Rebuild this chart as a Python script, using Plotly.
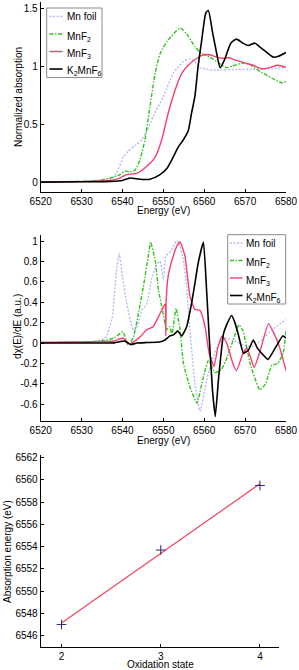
import numpy as np
import plotly.graph_objects as go

W, H = 299, 670

# ---------------- data: normalized absorption (panel 1) ----------------
foil_E = [6520, 6525, 6530, 6534, 6536, 6537.5, 6538.5, 6539.4, 6540.2, 6541.4, 6543.1, 6544.7,
          6545.9, 6547.5, 6550, 6552.4, 6554.9, 6556.5, 6557.7, 6558.9, 6560.2, 6561.4, 6564,
          6568, 6572, 6576, 6580]
foil_A = [0.01, 0.01, 0.012, 0.02, 0.03, 0.04, 0.08, 0.15, 0.22, 0.27, 0.32, 0.37,
          0.44, 0.57, 0.74, 0.94, 1.04, 1.065, 1.04, 0.99, 0.98, 0.97, 0.97,
          0.975, 0.975, 0.98, 0.99]

mnf2_E = [6520, 6525, 6530, 6534, 6537, 6539.4, 6540.6, 6541.8, 6543.1, 6544.3, 6545.5, 6546.7,
          6548, 6549.2, 6550.8, 6552, 6554.1, 6555.7, 6557.7, 6559.4, 6561.4, 6563.5, 6565.5,
          6567.5, 6569.5, 6571, 6573, 6575, 6577, 6579, 6580]
mnf2_A = [0.005, 0.008, 0.012, 0.02, 0.04, 0.07, 0.10, 0.095, 0.11, 0.2, 0.37, 0.65,
          0.94, 1.11, 1.21, 1.26, 1.33, 1.28, 1.17, 1.11, 1.08, 1.03, 0.99,
          1.01, 1.03, 1.02, 0.97, 0.93, 0.89, 0.86, 0.87]

mnf3_E = [6520, 6530, 6535, 6537, 6539.4, 6541, 6543.4, 6545.9, 6548, 6549.6, 6551.2, 6552.9,
          6554.5, 6556.1, 6558.2, 6559.8, 6561.4, 6563, 6564.5, 6566, 6568, 6570, 6572, 6574,
          6576, 6578, 6580]
mnf3_A = [0.005, 0.01, 0.015, 0.02, 0.04, 0.07, 0.08, 0.14, 0.22, 0.37, 0.6, 0.8,
          0.94, 1.01, 1.07, 1.10, 1.10, 1.08, 1.07, 1.075, 1.05, 1.03, 1.01, 0.98,
          0.99, 1.01, 0.99]

k2_E = [6520, 6530, 6537, 6540, 6541.8, 6544.3, 6546.7, 6549.2, 6550.8, 6552.4, 6553.7, 6554.9,
        6556.1, 6556.9, 6557.7, 6558.5, 6559.4, 6560.4, 6561, 6562, 6563, 6563.9, 6565,
        6566.5, 6567.9, 6569.5, 6570.8, 6572.4, 6573.5, 6575, 6576.9, 6578, 6580]
k2_A = [0.005, 0.008, 0.012, 0.02, 0.04, 0.03, 0.03, 0.07, 0.12, 0.22, 0.31, 0.37,
        0.45, 0.6, 0.74, 1.0, 1.23, 1.46, 1.48, 1.3, 1.12, 0.99, 1.06,
        1.2, 1.235, 1.2, 1.18, 1.2, 1.17, 1.13, 1.08, 1.085, 1.12]

# ---------------- data: derivative (panel 2) ----------------
dfoil_E = [6520, 6530, 6534, 6536, 6537.5, 6538.5, 6539.2, 6540, 6541, 6542.6, 6543.5, 6544.7,
           6545.9, 6547.1, 6547.8, 6548.4, 6549.2, 6550, 6550.6, 6552, 6553.1, 6553.7, 6554.9,
           6555.7, 6556.5, 6557.7, 6559, 6560.6, 6561.4, 6563, 6564.7, 6567, 6570, 6572, 6574,
           6576.9, 6580]
dfoil_D = [0.005, 0.01, 0.02, 0.06, 0.25, 0.7, 0.88, 0.65, 0.4, 0.13, 0.15, 0.32,
           0.38, 0.62, 0.72, 0.78, 0.8, 0.62, 0.85, 0.91, 1.0, 0.99, 0.81,
           0.55, 0.13, -0.39, -0.67, -0.36, -0.24, -0.05, 0.05, 0.03, -0.03, -0.03, 0.03,
           0.14, 0.23]

dmnf2_E = [6520, 6530, 6535, 6538, 6540.1, 6541.4, 6542.7, 6543.9, 6545.1, 6546.3, 6546.9, 6548,
           6548.8, 6549.6, 6550.8, 6551.6, 6552.1, 6553.1, 6554.1, 6554.9, 6556.5, 6558.2, 6559.8,
           6561, 6562.6, 6564.2, 6565.5, 6567.1, 6568.5, 6569.5, 6571.2, 6573.6, 6575, 6576.5,
           6578, 6579.3, 6580]
dmnf2_D = [0.005, 0.01, 0.02, 0.05, 0.11, -0.02, 0.06, 0.29, 0.55, 0.85, 0.99, 0.81,
           0.52, 0.36, 0.13, 0.16, 0.08, 0.34, 0.13, -0.2, -0.43, -0.59, -0.33,
           -0.17, -0.29, -0.26, -0.15, 0.03, 0.18, 0.12, -0.2, -0.46, -0.4, -0.22,
           -0.2, -0.1, 0.12]

dmnf3_E = [6520, 6530, 6536, 6538, 6540.1, 6541.8, 6543, 6544.3, 6545.9, 6547.5, 6549.2, 6550.4,
           6550.6, 6550.7, 6551.2, 6552.4, 6553.3, 6554.1, 6555.3, 6556.5, 6557.7, 6559, 6560.2,
           6561.2, 6562.4, 6563.3, 6564.4, 6565.5, 6567, 6567.9, 6569.5, 6570.5, 6572.2, 6573.5,
           6575.7, 6577, 6578.5, 6580]
dmnf3_D = [0.005, 0.01, 0.015, 0.02, 0.05, -0.01, 0.02, 0.06, 0.13, 0.16, 0.29, 0.38,
           0.07, 0.42, 0.66, 0.85, 0.95, 0.99, 0.85, 0.46, 0.33, 0.32, 0.16,
           -0.1, -0.23, -0.05, 0.07, 0.0, -0.2, -0.27, -0.1, -0.05, -0.24, -0.1,
           0.19, 0.1, -0.05, -0.27]

dk2_E = [6520, 6530, 6538, 6540.5, 6542, 6543.5, 6546, 6549, 6550.4, 6551, 6551.6, 6552.5,
         6553.5, 6554.5, 6555.7, 6556.9, 6557.7, 6558.5, 6559.8, 6560.6, 6561.3, 6562, 6562.7,
         6563.5, 6564.7, 6565.5, 6566.7, 6567.5, 6568.3, 6569.6, 6570.8, 6572, 6573, 6574.5,
         6575.6, 6577.5, 6579.2, 6580]
dk2_D = [0.0, 0.0, 0.002, 0.02, -0.015, 0.0, 0.005, 0.01, 0.03, 0.05, 0.07, 0.08,
         0.12, 0.07, 0.16, 0.39, 0.58, 0.78, 0.99, 0.5, 0.0, -0.45, -0.72,
         -0.35, 0.09, 0.18, 0.27, 0.2, 0.09, -0.1, -0.07, 0.03, -0.05, -0.12,
         -0.16, -0.04, 0.07, 0.05]

# ---------------- data: panel 3 ----------------
ox_state = [2, 3, 4]
abs_energy = [6547.0, 6553.7, 6559.5]

# ticks
e_ticks = [6520, 6530, 6540, 6550, 6560, 6570, 6580]
a_ticks = [0, 0.5, 1, 1.5]
a_labels = ["0", "0.5", "1", "1.5"]
d_ticks = [-0.6, -0.4, -0.2, 0, 0.2, 0.4, 0.6, 0.8, 1]
d_labels = ["-0.6", "-0.4", "-0.2", "0", "0.2", "0.4", "0.6", "0.8", "1"]
ox_ticks = [2, 3, 4]
ae_ticks = list(range(6546, 6563, 2))

names = ["Mn foil", "MnF<sub>2</sub>", "MnF<sub>3</sub>", "K<sub>2</sub>MnF<sub>6</sub>"]
colors = ["#b8b8f4", "#2fc21a", "#f5406e", "#000000"]
dashes = ["2px,1.6px", "4px,1.6px,1.4px,1.6px", "solid", "solid"]
widths = [1.4, 1.4, 1.4, 1.6]

FONT = "Liberation Sans, Arial, sans-serif"

fig = go.Figure()

p1 = [(foil_E, foil_A), (mnf2_E, mnf2_A), (mnf3_E, mnf3_A), (k2_E, k2_A)]
p2 = [(dfoil_E, dfoil_D), (dmnf2_E, dmnf2_D), (dmnf3_E, dmnf3_D), (dk2_E, dk2_D)]

for i, (x, y) in enumerate(p1):
    fig.add_trace(go.Scatter(x=x, y=y, mode="lines", name=names[i], showlegend=False,
                             line=dict(color=colors[i], dash=dashes[i], width=widths[i], shape="spline", smoothing=0.6),
                             xaxis="x", yaxis="y"))
for i, (x, y) in enumerate(p2):
    fig.add_trace(go.Scatter(x=x, y=y, mode="lines", name=names[i], showlegend=False,
                             line=dict(color=colors[i], dash=dashes[i], width=widths[i], shape="spline", smoothing=0.4),
                             xaxis="x2", yaxis="y2"))

coef = np.polyfit(ox_state, abs_energy, 1)
fit_y = list(np.polyval(coef, ox_state))
fig.add_trace(go.Scatter(x=ox_state, y=fit_y, mode="lines", showlegend=False,
                         line=dict(color="#f5405e", width=1.2), xaxis="x3", yaxis="y3"))
fig.add_trace(go.Scatter(x=ox_state, y=abs_energy, mode="markers", showlegend=False,
                         marker=dict(symbol="cross-thin", size=7, line=dict(color="#2b2b7a", width=1)),
                         xaxis="x3", yaxis="y3"))


def fx(p):
    return p / W


def fy(p):
    return 1 - p / H


axis_common = dict(showline=True, linecolor="black", linewidth=1, ticks="inside", ticklen=3,
                   tickcolor="black", showgrid=False, zeroline=False, mirror=False, automargin=False,
                   tickfont=dict(family=FONT, size=10, color="black"))

fig.update_layout(
    width=W, height=H, margin=dict(l=0, r=0, t=0, b=0, autoexpand=False),
    paper_bgcolor="white", plot_bgcolor="white",
    font=dict(family=FONT, size=10, color="black"),
    xaxis=dict(domain=[fx(40.7), fx(286)], range=[6520, 6580], tickvals=e_ticks, anchor="y", **axis_common),
    yaxis=dict(domain=[fy(191.7), fy(2)], range=[-0.077, 1.554], tickvals=a_ticks, ticktext=a_labels,
               anchor="x", **axis_common),
    xaxis2=dict(domain=[fx(40.7), fx(286)], range=[6520, 6580], tickvals=e_ticks, anchor="y2", **axis_common),
    yaxis2=dict(domain=[fy(421), fy(235)], range=[-0.764, 1.059], tickvals=d_ticks, ticktext=d_labels,
                anchor="x2", **axis_common),
    xaxis3=dict(domain=[fx(40.7), fx(279.3)], range=[1.79, 4.195], tickvals=ox_ticks, anchor="y3", **axis_common),
    yaxis3=dict(domain=[fy(646.7), fy(455)], range=[6545.01, 6562.24], tickvals=ae_ticks,
                anchor="x3", **axis_common),
    showlegend=False,
)

# ---------------- legends (boxes with line samples and labels) ----------------
legend_boxes = [
    dict(box=(46.7, 8.0, 102.0, 77.5), line_x=(49.5, 62.5), text_x=64.5, rows=[16.5, 34.0, 51.5, 69.0]),
    dict(box=(227.7, 234.7, 285.7, 304.0), line_x=(230.0, 242.5), text_x=244.0, rows=[243.0, 260.5, 278.0, 295.5]),
]
for lb in legend_boxes:
    x0, y0, x1, y1 = lb["box"]
    fig.add_shape(type="rect", xref="paper", yref="paper", x0=fx(x0), x1=fx(x1), y0=fy(y1), y1=fy(y0),
                  line=dict(color="#8c8c8c", width=1), fillcolor="white", layer="above")
    for i, ry in enumerate(lb["rows"]):
        fig.add_shape(type="line", xref="paper", yref="paper", x0=fx(lb["line_x"][0]), x1=fx(lb["line_x"][1]),
                      y0=fy(ry), y1=fy(ry), line=dict(color=colors[i], dash=dashes[i], width=widths[i]),
                      layer="above")
        sub = "<sub>" in names[i]
        fig.add_annotation(xref="paper", yref="paper", showarrow=False, xanchor="left", yanchor="middle",
                           x=fx(lb["text_x"]), y=fy(ry + (2.5 if sub else 0)), text=names[i],
                           font=dict(family=FONT, size=10, color="black"))

ann = [
    dict(text="Energy (eV)", x=fx(163), y=fy(211)),
    dict(text="Energy (eV)", x=fx(163), y=fy(440.5)),
    dict(text="Oxidation state", x=fx(160), y=fy(664.5)),
    dict(text="Normalized absorption", x=fx(18), y=fy(97), textangle=-90),
    dict(text="dχ(E)/dE (a.u.)", x=fx(17), y=fy(327), textangle=-90),
    dict(text="Absorption energy (eV)", x=fx(7), y=fy(552), textangle=-90),
]
for a in ann:
    fig.add_annotation(xref="paper", yref="paper", showarrow=False, xanchor="center", yanchor="middle",
                       font=dict(family=FONT, size=10, color="black"), **a)

# the page's default 8px body margin would shift the 299x670 figure; remove it
fig.write_html("out.html", config={"displayModeBar": False},
               post_script="document.body.style.margin='0';document.body.style.overflow='hidden';")
